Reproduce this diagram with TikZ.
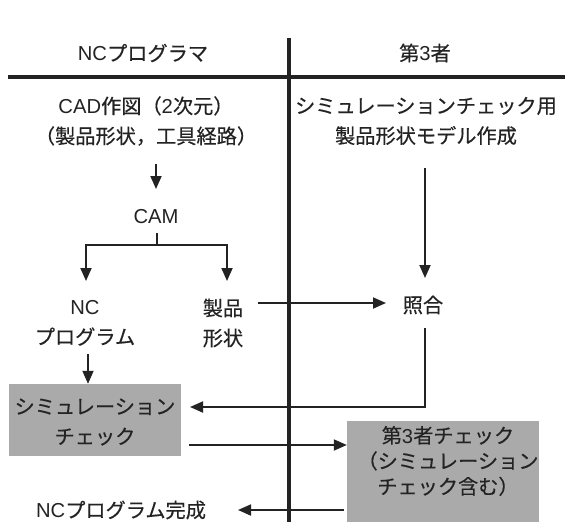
\documentclass[tikz,border=0pt]{standalone}
\usepackage{fontspec}
\setmainfont{Noto Sans CJK JP}[FakeBold=0.4]
\newfontfamily\lat{Liberation Sans}
\usetikzlibrary{arrows.meta}
\definecolor{ink}{RGB}{35,35,35}
\definecolor{boxgray}{RGB}{170,170,170}
\tikzset{
  txt/.style={font=\fontsize{20.2pt}{30pt}\selectfont, text=ink, align=center, inner sep=0pt},
  tight/.style={font=\fontsize{20.2pt}{25.5pt}\selectfont},
  conn/.style={draw=ink, line width=1.8pt, -{Triangle[length=13pt,width=11pt]}},
  plain/.style={draw=ink, line width=1.8pt},
  rule/.style={draw=ink, line width=3.5pt},
  graybox/.style={fill=boxgray, draw=none, inner sep=0pt}
}
\begin{document}
\begin{tikzpicture}[x=1pt,y=-1pt]
\useasboundingbox (0,0) rectangle (565,522);
\fill[white] (0,0) rectangle (565,522);
% dividers
\coordinate (vt) at (289,38);
\coordinate (vb) at (289,522);
\coordinate (hl) at (8,77);
\coordinate (hr) at (565,77);
% boxes
\node[graybox, minimum width=172pt, minimum height=72pt] (sim) at (95,420) {};
\node[graybox, minimum width=192pt, minimum height=101pt] (tp) at (443,471.5) {};
\draw[rule] (vt) -- (vb);
\draw[rule] (hl) -- (hr);
% headers
\node[txt] (h1) at (143,53) {{\lat NC}プログラマ};
\node[txt] (h2) at (425,53) {第{\lat 3}者};
% left column
\node[txt] (cad) at (146,121) {{\lat CAD}作図（{\lat 2}次元）\\（製品形状，工具経路）};
\node[txt] (cam) at (156,217) {{\lat CAM}};
\node[txt] (ncp) at (85,323) {{\lat NC}\\プログラム};
\node[txt] (shape) at (223,323) {製品\\形状};
\node[txt] (simt) at (95,422) {シミュレーション\\チェック};
\node[txt] (done) at (121,510) {{\lat NC}プログラム完成};
% right column
\node[txt] (model) at (426,121) {シミュレーションチェック用\\製品形状モデル作成};
\node[txt] (match) at (423,305) {照合};
\node[txt, tight] (tpt) at (448,461) {第{\lat 3}者チェック\\（シミュレーション\\チェック含む）};
% connectors
\draw[conn] (156,164) -- (156,189);
\coordinate (fk) at (157,245);
\draw[plain] (157,233) -- (fk);
\draw[conn] (fk) -| (86,281);
\draw[conn] (fk) -| (227,281);
\draw[conn] (258,303) -- (386,303);
\draw[conn] (425,168) -- (425,278);
\draw[conn] (425,328) |- (190,407);
\draw[conn] (88,354) -- (sim.north -| 88,0);
\draw[conn] (189,445) -- (tp.west |- 0,445);
\draw[conn] (344,510) -- (238,510);
\end{tikzpicture}
\end{document}
